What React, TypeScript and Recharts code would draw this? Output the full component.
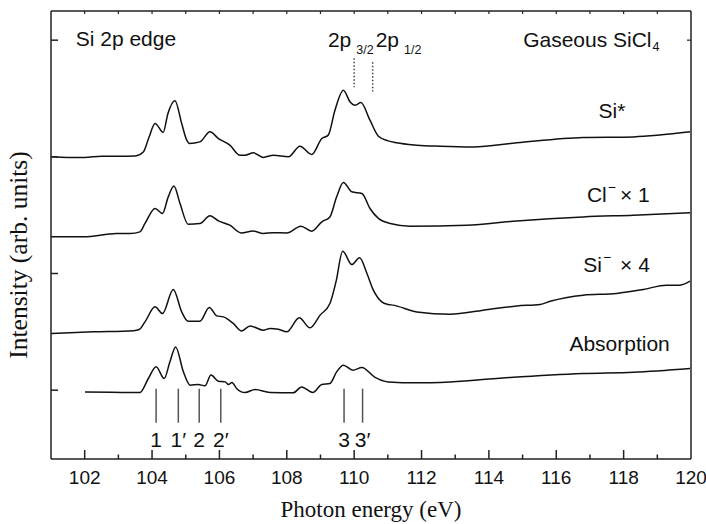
import React from 'react';
import { LineChart, Line, XAxis, YAxis, ReferenceLine, ReferenceDot } from 'recharts';

// ---------- data (photon energy in eV, intensity in arb. units incl. vertical offset) ----------
const siStarE = [101.0, 101.5, 102.0, 102.5, 103.0, 103.5, 103.74, 103.91, 104.09, 104.33, 104.47, 104.68, 104.88, 105.03, 105.11, 105.42, 105.72, 105.97, 106.31, 106.61, 106.76, 107.01, 107.3, 107.6, 108.05, 108.39, 108.74, 109.04, 109.23, 109.43, 109.68, 109.88, 110.03, 110.2, 110.47, 110.72, 111.01, 111.26, 111.86, 112.55, 113.54, 114.83, 116.8, 118.29, 119.97];
const siStarI = [2.0, 1.995, 1.995, 2.005, 2.005, 2.008, 2.042, 2.168, 2.286, 2.209, 2.37, 2.48, 2.286, 2.143, 2.115, 2.128, 2.214, 2.157, 2.1, 2.014, 2.014, 2.034, 1.995, 2.014, 2.0, 2.091, 2.02, 2.157, 2.186, 2.4, 2.571, 2.471, 2.443, 2.466, 2.314, 2.177, 2.137, 2.12, 2.1, 2.091, 2.085, 2.12, 2.166, 2.171, 2.214];

const clMinusE = [101.0, 101.96, 102.95, 103.35, 103.64, 103.79, 104.09, 104.31, 104.48, 104.65, 104.83, 105.07, 105.42, 105.72, 105.97, 106.31, 106.65, 107.0, 107.3, 107.6, 108.0, 108.42, 108.74, 109.04, 109.28, 109.48, 109.68, 109.93, 110.23, 110.47, 110.72, 111.07, 111.66, 113.34, 114.83, 116.8, 118.29, 119.97];
const clMinusI = [1.314, 1.314, 1.343, 1.343, 1.357, 1.429, 1.557, 1.515, 1.657, 1.751, 1.6, 1.423, 1.429, 1.494, 1.451, 1.414, 1.348, 1.365, 1.343, 1.35, 1.348, 1.406, 1.363, 1.443, 1.485, 1.657, 1.78, 1.7, 1.686, 1.557, 1.472, 1.429, 1.406, 1.414, 1.451, 1.485, 1.5, 1.52];

const siMinusE = [101.0, 102.26, 103.45, 103.62, 103.79, 104.09, 104.31, 104.63, 104.88, 105.07, 105.42, 105.7, 105.92, 106.12, 106.41, 106.66, 106.91, 107.3, 107.5, 107.75, 108.0, 108.37, 108.69, 108.99, 109.28, 109.46, 109.66, 109.93, 110.16, 110.38, 110.57, 110.82, 111.01, 111.16, 111.86, 112.85, 113.84, 114.83, 115.52, 115.82, 116.8, 117.79, 118.58, 119.27, 119.67, 119.97];
const siMinusI = [0.486, 0.5, 0.51, 0.52, 0.585, 0.714, 0.657, 0.863, 0.671, 0.591, 0.591, 0.709, 0.637, 0.628, 0.572, 0.508, 0.551, 0.514, 0.529, 0.523, 0.5, 0.62, 0.534, 0.643, 0.743, 0.928, 1.191, 1.077, 1.134, 1.0, 0.857, 0.757, 0.735, 0.729, 0.671, 0.651, 0.686, 0.722, 0.735, 0.762, 0.814, 0.829, 0.863, 0.9, 0.9, 0.934];

const absE = [102.01, 102.8, 103.64, 103.89, 104.12, 104.36, 104.53, 104.7, 104.93, 105.13, 105.37, 105.57, 105.75, 105.97, 106.17, 106.27, 106.37, 106.51, 106.76, 107.06, 107.5, 108.19, 108.44, 108.77, 109.04, 109.28, 109.48, 109.68, 109.96, 110.23, 110.62, 111.01, 111.86, 112.85, 114.63, 116.8, 118.29, 119.97];
const absI = [-0.015, -0.018, -0.02, 0.1, 0.2, 0.1, 0.243, 0.371, 0.157, 0.043, 0.049, 0.037, 0.129, 0.077, 0.071, 0.049, 0.066, 0.015, -0.02, 0.006, -0.02, -0.023, 0.028, -0.02, 0.049, 0.057, 0.157, 0.214, 0.171, 0.195, 0.109, 0.071, 0.063, 0.071, 0.109, 0.143, 0.154, 0.186];

const markerE = [104.12, 104.78, 105.4, 106.04, 109.7, 110.25];
const markerLabels = ['1', '1\u2032', '2', '2\u2032', '3', '3\u2032'];
const splitE = [110.0, 110.55]; // 2p3/2, 2p1/2

const xTicks = [102, 103, 104, 105, 106, 107, 108, 109, 110, 111, 112, 113, 114, 115, 116, 117, 118, 119, 120];
const xTopTicks = [102, 103, 104, 105, 106, 107, 108, 109, 110, 111, 112, 113, 114, 115, 116, 117, 118, 119];
const yTicks = [0, 1, 2, 3];
const yRightTicks = [3];

const zip = (e: number[], v: number[]) => e.map((x, i) => ({ e: x, v: v[i] }));
const siStarData = zip(siStarE, siStarI);
const clMinusData = zip(clMinusE, clMinusI);
const siMinusData = zip(siMinusE, siMinusI);
const absData = zip(absE, absI);

// ---------- styles ----------
const SANS = '"Liberation Sans", Arial, Helvetica, sans-serif';
const SERIF = '"Liberation Serif", "Times New Roman", serif';
const INK = '#111';
const FS = 21;

const BottomTick = (props: any) => {
  const { x, y, payload } = props;
  const v = payload.value;
  const major = v % 2 === 0;
  return (
    <g>
      {v < 120 && <line x1={x} x2={x} y1={y} y2={y - (major ? 9 : 4.5)} stroke="#222" strokeWidth={1.5} />}
      {major && (
        <text x={x} y={y + 25} textAnchor="middle" fontSize={19} fontFamily={SANS} fill={INK}>
          {v}
        </text>
      )}
    </g>
  );
};

const TopTick = (props: any) => {
  const { x, y } = props;
  return <line x1={x} x2={x} y1={y} y2={y + 3} stroke="#222" strokeWidth={1.2} />;
};

const LeftTick = (props: any) => {
  const { x, y } = props;
  return <line x1={x} x2={x + 7} y1={y} y2={y} stroke="#222" strokeWidth={1.5} />;
};

const RightTick = (props: any) => {
  const { x, y } = props;
  return <line x1={x} x2={x - 4} y1={y} y2={y} stroke="#222" strokeWidth={1.2} />;
};

const xTitle = (props: any) => {
  const vb = props.viewBox;
  return (
    <text x={vb.x + vb.width / 2} y={vb.y + 57.7} textAnchor="middle" fontSize={23} fontFamily={SERIF} fill={INK}>
      Photon energy (eV)
    </text>
  );
};

const yTitle = (props: any) => {
  const vb = props.viewBox;
  const x = vb.x + vb.width - 24;
  const y = vb.y + 244;
  return (
    <text x={x} y={y} transform={`rotate(-90 ${x} ${y})`} textAnchor="middle" fontSize={25.5} fontFamily={SERIF} fill={INK}>
      Intensity (arb. units)
    </text>
  );
};

const txt = (content: React.ReactNode, anchor: string = 'start') => (p: any) => (
  <text x={p.cx} y={p.cy} textAnchor={anchor} fontSize={FS} fontFamily={SANS} fill={INK}>
    {content}
  </text>
);

const AX = { xAxisId: 'b', yAxisId: 'l' } as const;

export default function App() {
  return (
    <div style={{ position: 'absolute', left: 0, top: 0, width: 706, height: 524 }}>
      <LineChart width={706} height={524} margin={{ top: 10, right: 14, left: 50, bottom: 64 }}>
        <XAxis
          xAxisId="b"
          type="number"
          dataKey="e"
          domain={[101, 120]}
          ticks={xTicks}
          interval={0}
          allowDataOverflow
          height={1}
          tickSize={0}
          tickMargin={0}
          tickLine={false}
          axisLine={{ stroke: '#222', strokeWidth: 1.5 }}
          tick={<BottomTick />}
          label={xTitle}
        />
        <XAxis
          xAxisId="t"
          orientation="top"
          type="number"
          dataKey="e"
          domain={[101, 120]}
          ticks={xTopTicks}
          interval={0}
          allowDataOverflow
          height={1}
          tickSize={0}
          tickMargin={0}
          tickLine={false}
          axisLine={{ stroke: '#222', strokeWidth: 1.5 }}
          tick={<TopTick />}
        />
        <YAxis
          yAxisId="l"
          type="number"
          domain={[-0.59, 3.25]}
          ticks={yTicks}
          interval={0}
          allowDataOverflow
          width={1}
          tickSize={0}
          tickMargin={0}
          tickLine={false}
          axisLine={{ stroke: '#222', strokeWidth: 1.5 }}
          tick={<LeftTick />}
          label={yTitle}
        />
        <YAxis
          yAxisId="r"
          orientation="right"
          type="number"
          domain={[-0.59, 3.25]}
          ticks={yRightTicks}
          interval={0}
          allowDataOverflow
          width={1}
          tickSize={0}
          tickMargin={0}
          tickLine={false}
          axisLine={{ stroke: '#222', strokeWidth: 1.5 }}
          tick={<RightTick />}
        />

        <Line {...AX} data={siStarData} dataKey="v" type="monotone" stroke={INK} strokeWidth={1.5} dot={false} isAnimationActive={false} />
        <Line {...AX} data={clMinusData} dataKey="v" type="monotone" stroke={INK} strokeWidth={1.5} dot={false} isAnimationActive={false} />
        <Line {...AX} data={siMinusData} dataKey="v" type="monotone" stroke={INK} strokeWidth={1.5} dot={false} isAnimationActive={false} />
        <Line {...AX} data={absData} dataKey="v" type="monotone" stroke={INK} strokeWidth={1.5} dot={false} isAnimationActive={false} />

        {markerE.map((e, i) => (
          <ReferenceLine key={'m' + i} {...AX} segment={[{ x: e, y: 0.013 }, { x: e, y: -0.279 }]} stroke="#555" strokeWidth={1.5} ifOverflow="visible" />
        ))}
        {markerE.map((e, i) => (
          <ReferenceDot key={'ml' + i} {...AX} x={e} y={-0.484} r={0} ifOverflow="visible" shape={txt(markerLabels[i], 'middle')} />
        ))}

        <ReferenceLine {...AX} segment={[{ x: splitE[0], y: 2.846 }, { x: splitE[0], y: 2.597 }]} stroke="#444" strokeWidth={1.5} strokeDasharray="1.5 2" ifOverflow="visible" />
        <ReferenceLine {...AX} segment={[{ x: splitE[1], y: 2.811 }, { x: splitE[1], y: 2.56 }]} stroke="#444" strokeWidth={1.5} strokeDasharray="1.5 2" ifOverflow="visible" />

        <ReferenceDot {...AX} x={101.734} y={2.948} r={0} ifOverflow="visible" shape={txt('Si 2p edge')} />
        <ReferenceDot
          {...AX}
          x={109.222}
          y={2.944}
          r={0}
          ifOverflow="visible"
          shape={txt(
            <>
              2p
              <tspan fontSize={12.5} dx={5} dy={7}>3/2</tspan>
              <tspan fontSize={FS} dx={2} dy={-7}>2p</tspan>
              <tspan fontSize={12.5} dx={5} dy={7}>1/2</tspan>
            </>
          )}
        />
        <ReferenceDot
          {...AX}
          x={115.017}
          y={2.944}
          r={0}
          ifOverflow="visible"
          shape={txt(
            <>
              Gaseous SiCl
              <tspan fontSize={12.5} dx={1} dy={4}>4</tspan>
            </>
          )}
        />
        <ReferenceDot {...AX} x={117.254} y={2.337} r={0} ifOverflow="visible" shape={txt('Si*')} />
        <ReferenceDot
          {...AX}
          x={116.91}
          y={1.609}
          r={0}
          ifOverflow="visible"
          shape={txt(
            <>
              Cl
              <tspan fontSize={14} dx={1} dy={-10}>{'\u2212'}</tspan>
              <tspan dx={4} dy={10}>{'\u00d7 1'}</tspan>
            </>
          )}
        />
        <ReferenceDot
          {...AX}
          x={116.8}
          y={1.014}
          r={0}
          ifOverflow="visible"
          shape={txt(
            <>
              Si
              <tspan fontSize={14} dx={1} dy={-10}>{'\u2212'}</tspan>
              <tspan dx={9} dy={10}>{'\u00d7 4'}</tspan>
            </>
          )}
        />
        <ReferenceDot {...AX} x={116.39} y={0.334} r={0} ifOverflow="visible" shape={txt('Absorption')} />
      </LineChart>
    </div>
  );
}
